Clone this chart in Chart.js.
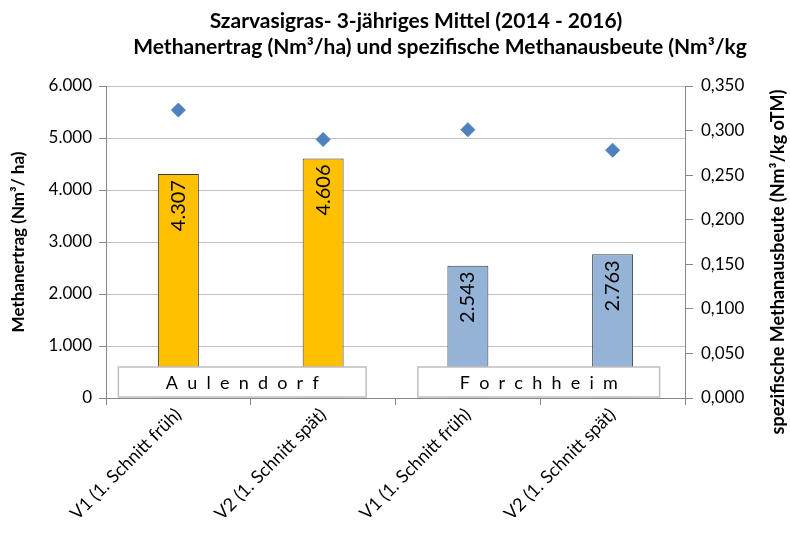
<!DOCTYPE html>
<html>
<head>
<meta charset="utf-8">
<script src="https://cdn.jsdelivr.net/npm/chart.js@4.4.1/dist/chart.umd.min.js"></script>
<style>
  html, body { margin: 0; padding: 0; background: #fff; }
</style>
</head>
<body>
<canvas id="chart" width="790" height="534"></canvas>
<script>
// Daten
const categories = ["V1 (1. Schnitt früh)", "V2 (1. Schnitt spät)", "V1 (1. Schnitt früh)", "V2 (1. Schnitt spät)"];
const methanertrag = [4307, 4606, 2543, 2763];            // Nm³/ha
const methanausbeute = [0.323, 0.290, 0.301, 0.278];      // Nm³/kg oTM
const barColors = ["#FFC000", "#FFC000", "#95B3D7", "#95B3D7"];
const standorte = ["Aulendorf", "Forchheim"];
const titel = [
  "Szarvasigras- 3-jähriges Mittel (2014 - 2016)",
  "Methanertrag (Nm³/ha) und spezifische Methanausbeute (Nm³/kg",
];
const titelRechts = "spezifische Methanausbeute (Nm³/kg oTM)";

const FONT = "Lato";

// 6000 -> "6.000", 0.35 -> "0,350"
const fmtTausend = (v) => String(Math.round(v)).replace(/\B(?=(\d{3})+(?!\d))/g, ".");
const fmtKomma = (v) => Number(v).toFixed(3).replace(".", ",");

// Titel oben (zwei Zeilen) + rechter Achsentitel (von unten nach oben gelesen)
const titelPlugin = {
  id: "titel",
  beforeDraw(chart) {
    const { ctx } = chart;
    ctx.save();
    ctx.fillStyle = "#000";
    ctx.font = `bold 21px ${FONT}`;
    ctx.textAlign = "center";
    ctx.textBaseline = "middle";
    ctx.fillText(titel[0], 416, 21);
    ctx.fillText(titel[1], 440, 47);

    ctx.font = `bold 18px ${FONT}`;
    ctx.translate(778, 262);
    ctx.rotate(-Math.PI / 2);
    ctx.fillText(titelRechts, 0, 0);
    ctx.restore();
  },
};

// Werte senkrecht in den Balken + Standort-Kästen
const beschriftung = {
  id: "beschriftung",
  afterDatasetsDraw(chart) {
    const { ctx } = chart;
    const bars = chart.getDatasetMeta(1).data;
    ctx.save();
    ctx.fillStyle = "#000";
    ctx.font = `20px ${FONT}`;
    bars.forEach((bar, i) => {
      ctx.save();
      ctx.translate(bar.x, bar.y + 6);
      ctx.rotate(-Math.PI / 2);
      ctx.textAlign = "right";
      ctx.textBaseline = "middle";
      ctx.fillText(fmtTausend(methanertrag[i]), 0, 0);
      ctx.restore();
    });

    // Kästen für die Standorte
    const x = chart.scales.x;
    const bottom = chart.chartArea.bottom;
    const boxes = [
      [x.getPixelForValue(0) - 60, x.getPixelForValue(1) + 43],
      [x.getPixelForValue(2) - 50, x.getPixelForValue(3) + 47],
    ];
    ctx.font = `18px ${FONT}`;
    ctx.textAlign = "center";
    ctx.textBaseline = "middle";
    boxes.forEach(([l, r], i) => {
      ctx.fillStyle = "#fff";
      ctx.fillRect(l, bottom - 31, r - l, 30);
      ctx.strokeStyle = "#BFBFBF";
      ctx.lineWidth = 1.5;
      ctx.strokeRect(l, bottom - 31, r - l, 30);
      ctx.fillStyle = "#000";
      ctx.fillText(standorte[i].split("").join("  "), (l + r) / 2, bottom - 15);
    });
    ctx.restore();
  },
};

const tickFont = { family: FONT, size: 17 };
const titleFont = { family: FONT, size: 17, weight: "bold" };

new Chart(document.getElementById("chart"), {
  type: "bar",
  data: {
    labels: categories,
    datasets: [
      {
        type: "line",
        label: "spezifische Methanausbeute",
        data: methanausbeute,
        yAxisID: "y1",
        showLine: false,
        pointStyle: "rectRot",
        pointRadius: 7,
        pointBackgroundColor: "#4F81BD",
        pointBorderColor: "#4F81BD",
        order: 0,
      },
      {
        label: "Methanertrag",
        data: methanertrag,
        yAxisID: "y",
        backgroundColor: barColors,
        borderColor: "#3A3A3A",
        borderWidth: 1,
        categoryPercentage: 1,
        barPercentage: 0.283,
        order: 1,
      },
    ],
  },
  options: {
    responsive: false,
    animation: false,
    layout: { padding: { top: 86, left: 0, right: 0, bottom: 0 } },
    plugins: {
      legend: { display: false },
      tooltip: { enabled: false },
    },
    scales: {
      x: {
        grid: { offset: true, drawOnChartArea: false, tickLength: 7, color: "#868686" },
        border: { color: "#868686" },
        ticks: { minRotation: 45, maxRotation: 45, font: { family: FONT, size: 18 }, color: "#000", padding: -1 },
        afterFit(s) { s.height = 136; },
      },
      y: {
        position: "left",
        min: 0,
        max: 6000,
        ticks: { stepSize: 1000, callback: fmtTausend, font: tickFont, color: "#000", padding: 7 },
        grid: { color: "#C0C0C0", tickColor: "#868686", tickLength: 7 },
        border: { color: "#868686" },
        title: { display: true, text: "Methanertrag (Nm³/ ha)", font: titleFont, color: "#000", padding: { top: 8, bottom: 0 } },
        afterFit(s) { s.width = 106; },
      },
      y1: {
        position: "right",
        min: 0,
        max: 0.35,
        ticks: { stepSize: 0.05, callback: fmtKomma, font: tickFont, color: "#000", padding: 8 },
        grid: { drawOnChartArea: false, color: "#868686", tickLength: 8 },
        border: { color: "#868686" },
        afterFit(s) { s.width = 105; },
      },
    },
  },
  plugins: [titelPlugin, beschriftung],
});
</script>
</body>
</html>
